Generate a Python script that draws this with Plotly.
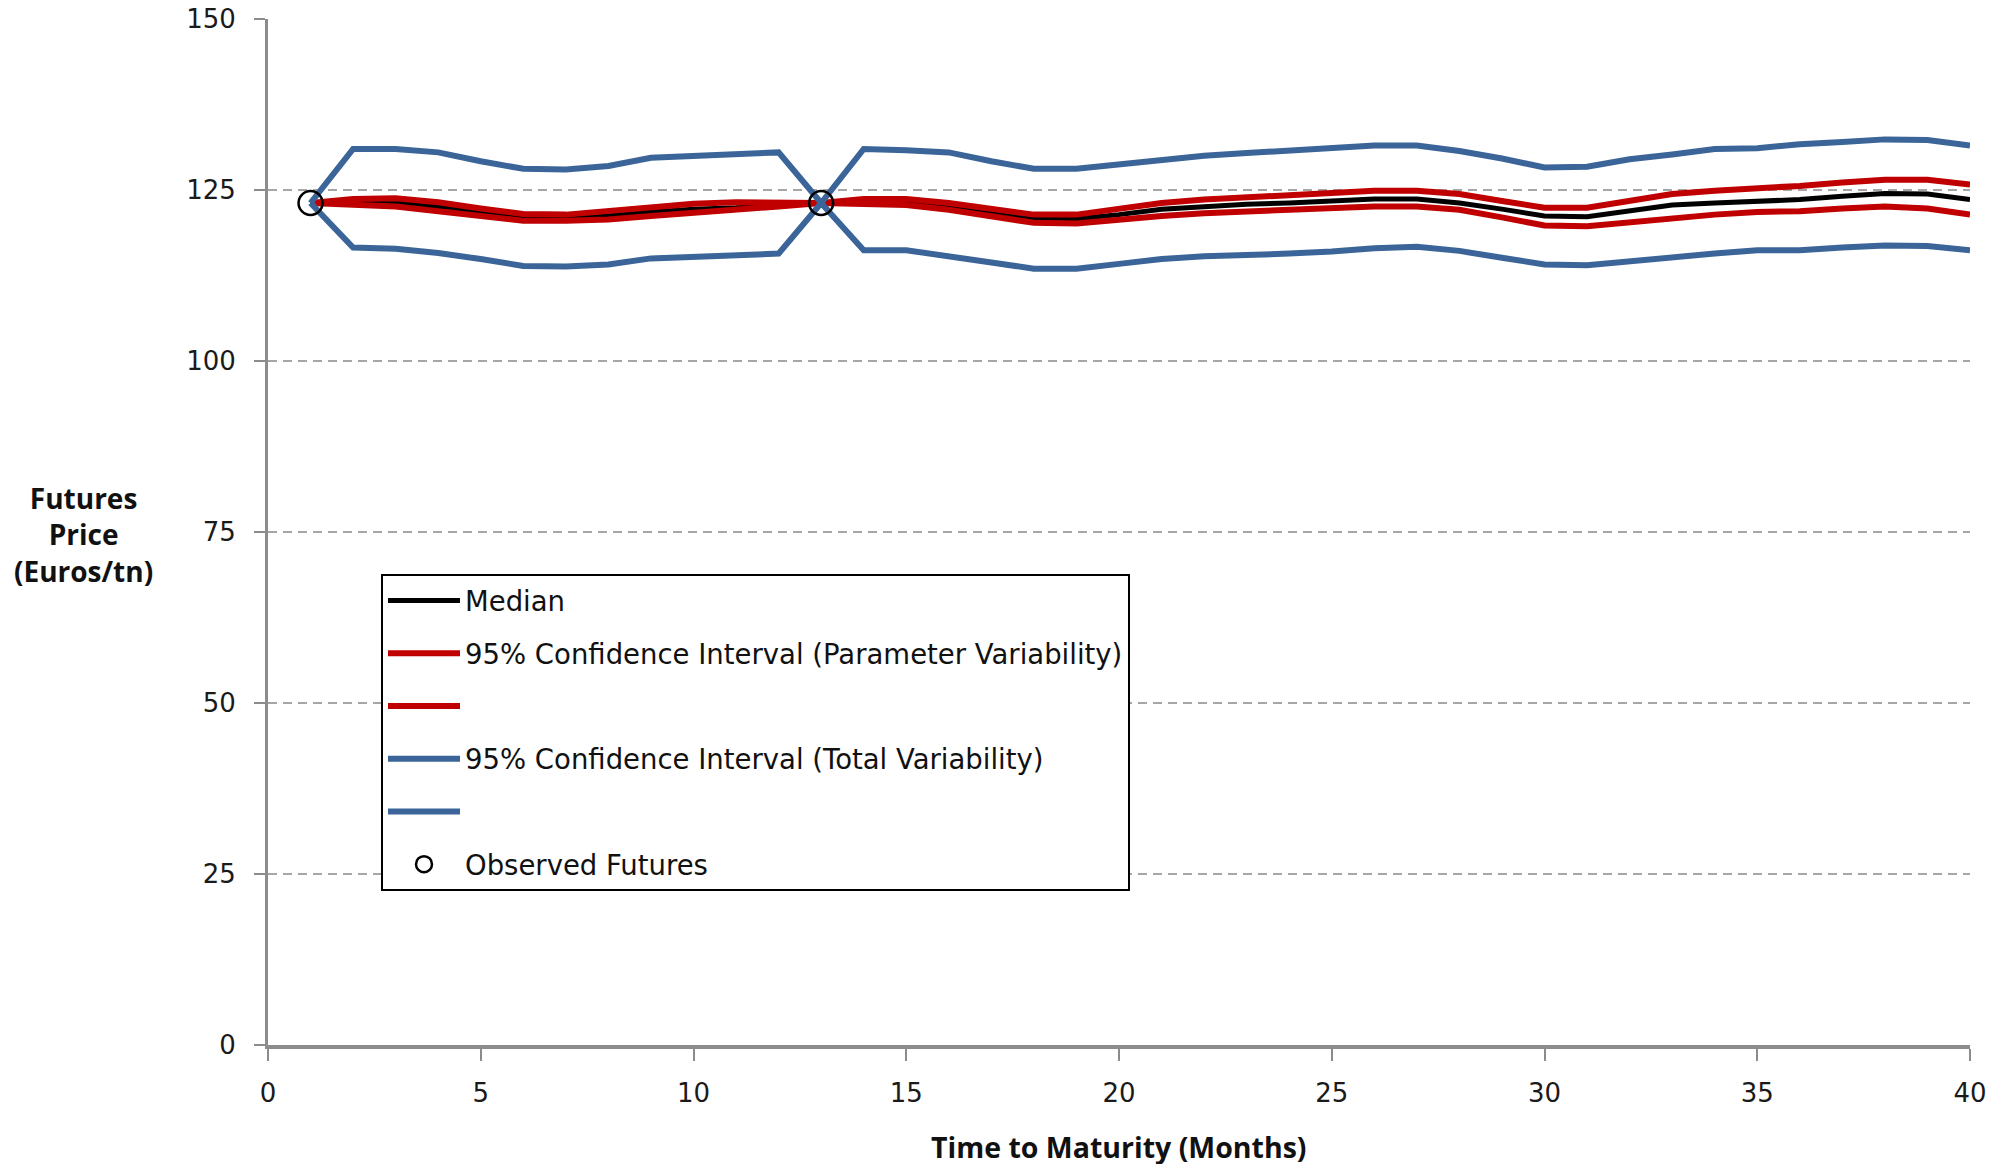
import plotly.graph_objects as go

months = list(range(1, 41))

median = [123.1, 123.2, 123.1, 122.6, 121.8, 121.0, 120.9, 121.2, 121.8, 122.2,
          122.4, 122.8, 123.1, 123.2, 123.1, 122.5, 121.7, 120.8, 120.8, 121.4,
          122.2, 122.6, 122.9, 123.1, 123.4, 123.7, 123.7, 123.1, 122.2, 121.2,
          121.1, 121.9, 122.8, 123.1, 123.4, 123.6, 124.1, 124.5, 124.4, 123.6]

param_upper = [123.1, 123.7, 123.8, 123.2, 122.3, 121.5, 121.4, 121.9, 122.6, 123.0,
               123.2, 123.2, 123.1, 123.7, 123.7, 123.1, 122.2, 121.4, 121.4, 122.3,
               123.1, 123.6, 123.9, 124.2, 124.5, 124.9, 124.9, 124.4, 123.4, 122.4,
               122.4, 123.4, 124.4, 124.9, 125.2, 125.6, 126.1, 126.5, 126.5, 125.8]

param_lower = [123.1, 122.9, 122.6, 121.9, 121.2, 120.5, 120.5, 120.7, 121.2, 121.6,
               122.2, 122.6, 123.1, 122.9, 122.8, 122.1, 121.2, 120.2, 120.1, 120.7,
               121.2, 121.6, 121.9, 122.2, 122.4, 122.6, 122.6, 122.1, 121.0, 119.8,
               119.7, 120.3, 121.0, 121.4, 121.8, 121.9, 122.3, 122.6, 122.3, 121.4]

total_upper = [123.1, 131.0, 131.0, 130.5, 129.2, 128.1, 128.0, 128.5, 129.7, 130.0,
               130.3, 130.5, 123.1, 131.0, 130.8, 130.5, 129.2, 128.1, 128.1, 128.8,
               129.4, 130.0, 130.4, 130.7, 131.0, 131.5, 131.5, 130.7, 129.6, 128.3,
               128.4, 129.5, 130.2, 131.0, 131.1, 131.7, 132.0, 132.4, 132.3, 131.5]

total_lower = [123.1, 116.6, 116.4, 115.8, 114.9, 113.9, 113.8, 114.1, 115.0, 115.3,
               115.5, 115.7, 123.1, 116.2, 116.2, 115.4, 114.4, 113.5, 113.5, 114.2,
               114.9, 115.3, 115.4, 115.7, 116.0, 116.5, 116.7, 116.1, 115.1, 114.1,
               114.0, 114.6, 115.3, 115.7, 116.2, 116.2, 116.6, 116.9, 116.8, 116.2]

obs_months = [1, 13]
obs_prices = [123.1, 123.1]

x_ticks = [0, 5, 10, 15, 20, 25, 30, 35, 40]
y_ticks = [0, 25, 50, 75, 100, 125, 150]

BLACK = "#000000"
RED = "#C00000"
BLUE = "#3B6598"

fig = go.Figure()
fig.add_trace(go.Scatter(x=months, y=median, mode="lines", name="Median",
                         line=dict(color=BLACK, width=5), legendgroup="g1"))
fig.add_trace(go.Scatter(x=months, y=param_upper, mode="lines",
                         name="95% Confidence Interval (Parameter Variability)",
                         line=dict(color=RED, width=6), legendgroup="g2"))
fig.add_trace(go.Scatter(x=months, y=param_lower, mode="lines", name=" ",
                         line=dict(color=RED, width=6), legendgroup="g3"))
fig.add_trace(go.Scatter(x=months, y=total_upper, mode="lines",
                         name="95% Confidence Interval (Total Variability)",
                         line=dict(color=BLUE, width=6), legendgroup="g4"))
fig.add_trace(go.Scatter(x=months, y=total_lower, mode="lines", name="  ",
                         line=dict(color=BLUE, width=6), legendgroup="g5"))
fig.add_trace(go.Scatter(x=obs_months, y=obs_prices, mode="markers", name="Observed Futures",
                         marker=dict(symbol="circle-open", size=24, color=BLACK,
                                     line=dict(width=2.5, color=BLACK)),
                         legendgroup="g6"))

# page has an 8px body margin; place the plot area at the reference's page coordinates
OFF = 8
W, H = 2003 - OFF, 1164 - OFF
PL, PT, PR, PB = 268, 19, 1970, 1045  # plot area in page pixels
L, T = PL - OFF, PT - OFF
R, B = W - (PR - OFF), H - (PB - OFF)
pw, ph = PR - PL, PB - PT


def px(xp):
    return (xp - PL) / pw


def py(yp):
    return (PB - yp) / ph


fig.update_layout(
    width=W, height=H,
    margin=dict(l=L, r=R, t=T, b=B, autoexpand=False),
    paper_bgcolor="white", plot_bgcolor="white",
    font=dict(family="DejaVu Sans", size=26, color="#1a1a1a"),
    showlegend=True,
    legend=dict(
        x=px(381), y=py(574), xanchor="left", yanchor="top",
        bgcolor="white", bordercolor="black", borderwidth=2,
        font=dict(family="DejaVu Sans", size=27.5, color="#111111"),
        tracegroupgap=14, itemwidth=72, traceorder="grouped",
    ),
    xaxis=dict(
        range=[0, 40], tickvals=x_ticks, ticktext=[str(v) for v in x_ticks],
        showgrid=False, zeroline=False, automargin=False,
        showline=True, linecolor="#8c8c8c", linewidth=4,
        ticks="outside", ticklen=12, tickwidth=2, tickcolor="#8c8c8c",
        ticklabelstandoff=10, ticklabeloverflow="allow",
    ),
    yaxis=dict(
        range=[0, 150], tickvals=y_ticks, ticktext=[str(v) for v in y_ticks],
        showgrid=True, gridcolor="#a6a6a6", gridwidth=2, griddash="9px,6px",
        zeroline=False, automargin=False,
        showline=True, linecolor="#8c8c8c", linewidth=3,
        ticks="outside", ticklen=11, tickwidth=2, tickcolor="#8c8c8c",
        ticklabelstandoff=13, ticklabeloverflow="allow",
    ),
    annotations=[
        dict(text="<b>Futures<br>Price<br>(Euros/tn)</b>", xref="paper", yref="paper",
             x=px(83), y=py(534), xanchor="center", yanchor="middle",
             showarrow=False, align="center",
             font=dict(family="Open Sans", size=28, color="#111111")),
        dict(text="<b>Time to Maturity (Months)</b>", xref="paper", yref="paper",
             x=0.5, y=py(1147), xanchor="center", yanchor="middle",
             showarrow=False,
             font=dict(family="Open Sans", size=28.5, color="#111111")),
    ],
)

fig.write_html("out.html")
